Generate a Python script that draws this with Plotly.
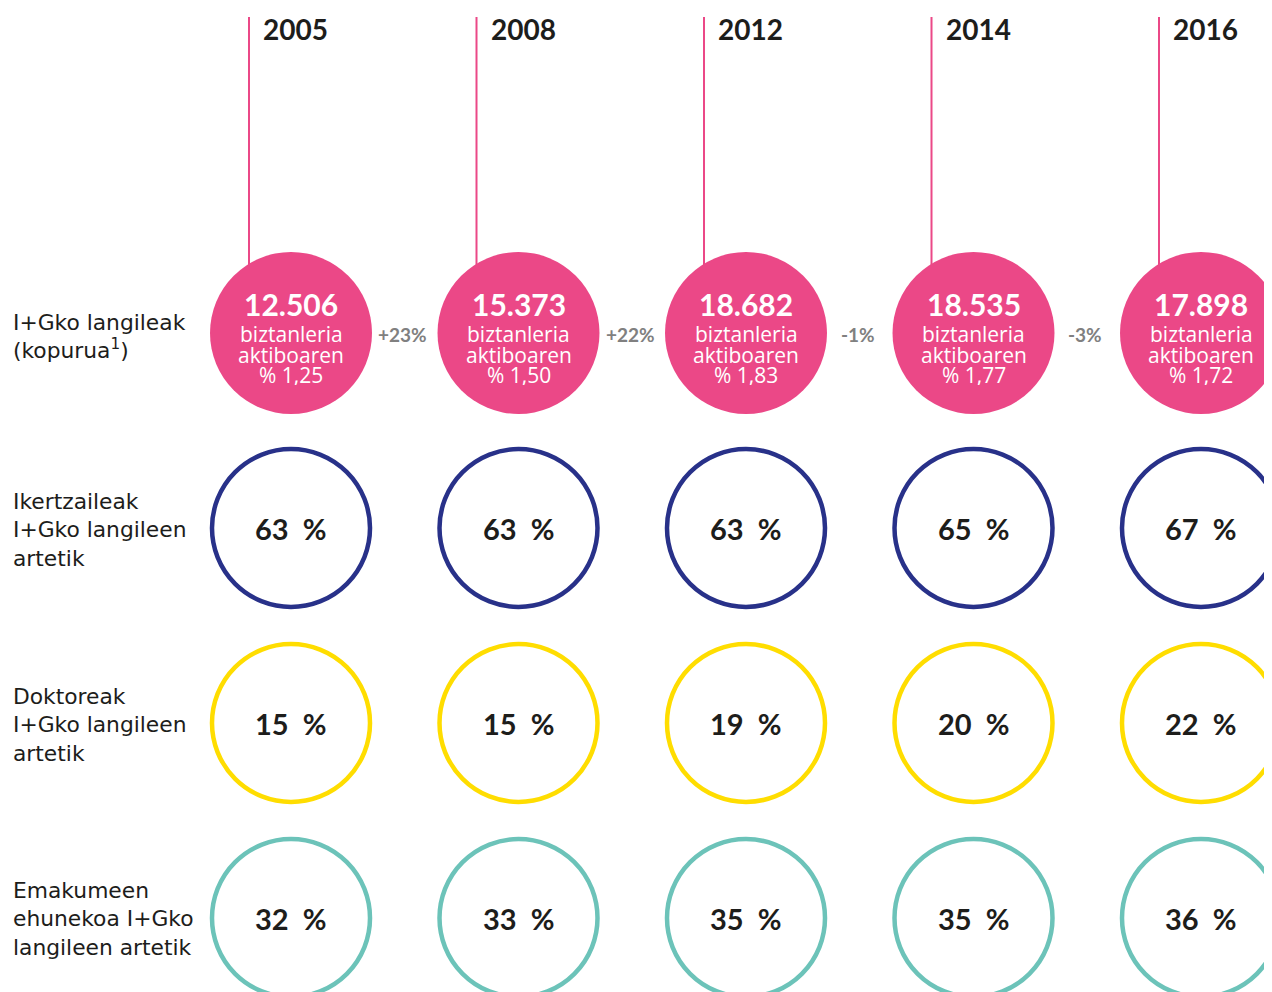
import plotly.graph_objects as go

# ---- data ----
years = ["2005", "2008", "2012", "2014", "2016"]
staff_total = ["12.506", "15.373", "18.682", "18.535", "17.898"]
active_share = ["% 1,25", "% 1,50", "% 1,83", "% 1,77", "% 1,72"]
changes = ["+23%", "+22%", "-1%", "-3%"]
researchers_pct = [63, 63, 63, 65, 67]
doctors_pct = [15, 15, 19, 20, 22]
women_pct = [32, 33, 35, 35, 36]
row_labels = [
    ["I+Gko langileak", "(kopurua<sup>1</sup>)"],
    ["Ikertzaileak", "I+Gko langileen", "artetik"],
    ["Doktoreak", "I+Gko langileen", "artetik"],
    ["Emakumeen", "ehunekoa I+Gko", "langileen artetik"],
]

# ---- layout constants (page pixel geometry) ----
W, H = 1272, 992
OFF = 8               # page margin around the plot div
X0, DX = 291, 227.5   # center of first column, column spacing (px)
Y0, DY = 333, 195     # center of first row, row spacing (px)
R = 81                # circle radius (px)
PINK = "#EB4887"
NAVY = "#283189"
YELLOW = "#FFDD00"
TEAL = "#6CC3B9"
DARK = "#1d1d1b"
GREY = "#808080"
BOLD = "Lato"
REG = "Open Sans"
LABEL = "DejaVu Sans"

def px_x(p):
    return (p - X0) / DX

def px_y(p):
    return (p - Y0) / DY

rx = R / DX
ry = R / DY

fig = go.Figure()
fig.add_trace(go.Scatter(x=[0], y=[0], mode="markers", marker=dict(opacity=0), hoverinfo="skip", showlegend=False))

shapes = []
annotations = []

# vertical pink lines + year labels
for i, yr in enumerate(years):
    shapes.append(dict(type="line", xref="x", yref="y", x0=i - 42 / DX, x1=i - 42 / DX,
                       y0=px_y(17), y1=0, line=dict(color=PINK, width=2), layer="above"))
    annotations.append(dict(x=i - 30 / DX, y=px_y(29), xref="x", yref="y", text="<b>%s</b>" % yr,
                            showarrow=False, xanchor="left", yanchor="middle",
                            font=dict(family=BOLD, size=28, color=DARK)))

# row 0: filled pink circles
for i in range(len(years)):
    shapes.append(dict(type="circle", xref="x", yref="y", x0=i - rx, x1=i + rx, y0=-ry, y1=ry,
                       fillcolor=PINK, line=dict(color=PINK, width=0), layer="above"))
    annotations.append(dict(x=i, y=px_y(304), xref="x", yref="y", text="<b>%s</b>" % staff_total[i],
                            showarrow=False, xanchor="center", yanchor="middle",
                            font=dict(family=BOLD, size=30, color="white")))
    for k, t in enumerate(["biztanleria", "aktiboaren", active_share[i]]):
        annotations.append(dict(x=i, y=px_y(334 + 20.5 * k), xref="x", yref="y", text=t,
                                showarrow=False, xanchor="center", yanchor="middle", height=20,
                                font=dict(family=REG, size=21, color="white")))

for i, c in enumerate(changes):
    annotations.append(dict(x=i + 0.5 - 2 / DX, y=px_y(334), xref="x", yref="y", text="<b>%s</b>" % c,
                            showarrow=False, xanchor="center", yanchor="middle",
                            font=dict(family=BOLD, size=19, color=GREY)))

# ring rows
rings = [(researchers_pct, NAVY, 1), (doctors_pct, YELLOW, 2), (women_pct, TEAL, 3)]
for vals, col, j in rings:
    for i, v in enumerate(vals):
        shapes.append(dict(type="circle", xref="x", yref="y",
                           x0=i - (R - 2) / DX, x1=i + (R - 2) / DX,
                           y0=j - (R - 2) / DY, y1=j + (R - 2) / DY,
                           fillcolor="rgba(0,0,0,0)", line=dict(color=col, width=4.5), layer="above"))
        annotations.append(dict(x=i, y=j, xref="x", yref="y", text="<b>%d  %%</b>" % v,
                                showarrow=False, xanchor="center", yanchor="middle",
                                font=dict(family=BOLD, size=29, color=DARK)))

# row labels (multi-line blocks, vertically centred)
label_centers = [336, 529.5, 724.5, 918.5]
for j, lines in enumerate(row_labels):
    annotations.append(dict(x=px_x(11), y=px_y(label_centers[j]), xref="x", yref="y",
                            text="<br>".join(lines), showarrow=False, xanchor="left", yanchor="middle",
                            align="left", font=dict(family=LABEL, size=21.8, color=DARK)))

fig.update_layout(
    width=W, height=H,
    margin=dict(l=0, r=0, t=0, b=0),
    paper_bgcolor="white", plot_bgcolor="white",
    showlegend=False,
    shapes=shapes, annotations=annotations,
    xaxis=dict(range=[px_x(OFF), px_x(OFF + W)], visible=False, fixedrange=True),
    yaxis=dict(range=[px_y(OFF + H), px_y(OFF)], visible=False, fixedrange=True),
)

fig.write_html("out.html")
